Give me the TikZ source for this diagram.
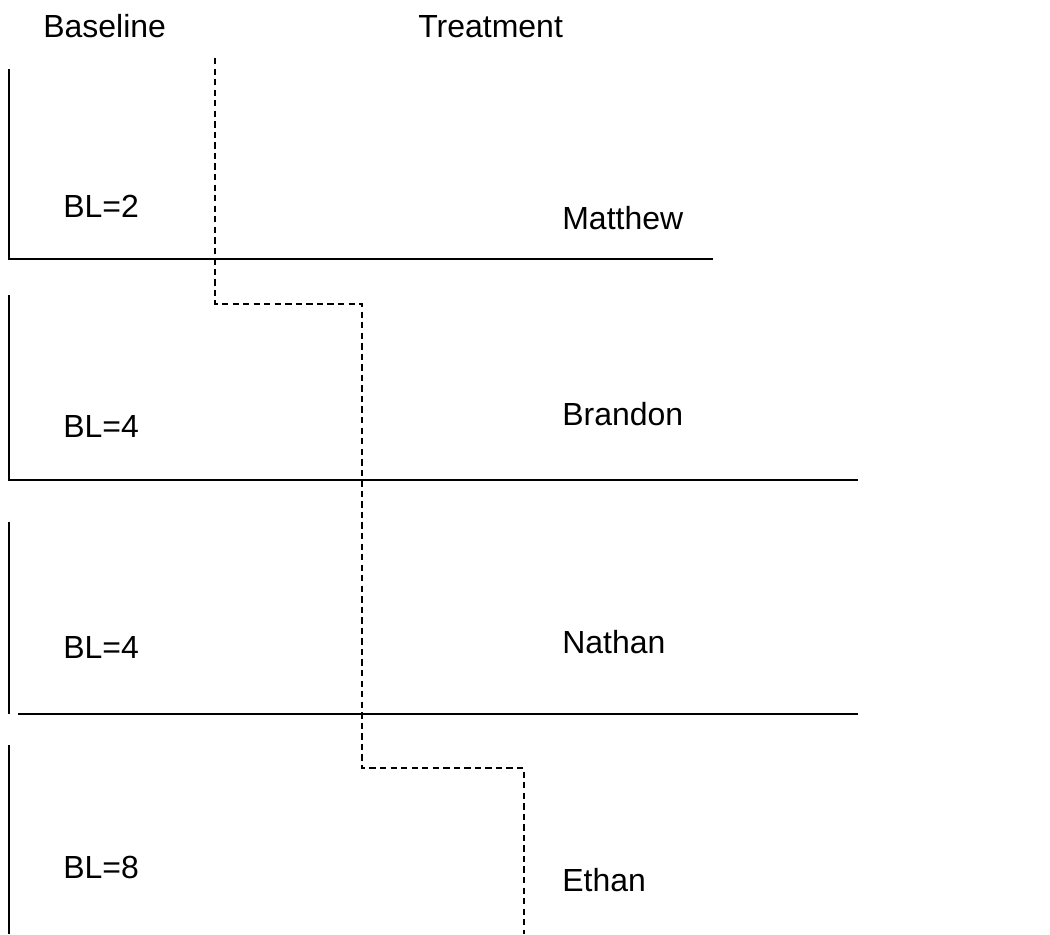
\documentclass[tikz,border=0pt]{standalone}
\usepackage{fontspec}
\setmainfont{Liberation Sans}
\usetikzlibrary{positioning}
\tikzstyle{axis} = [line width=1.1pt]
\tikzstyle{phase} = [line width=0.9pt,dash pattern=on 3.6pt off 2.4pt]
\tikzstyle{lbl} = [anchor=base west,inner sep=0pt,font=\fontsize{18.2}{22}\selectfont]

\begin{document}
\begin{tikzpicture}[x=0.02cm,y=-0.02cm]
\useasboundingbox (0,0) rectangle (1050,934);
\node [lbl](base) at (43,37){Baseline};
\node [lbl](treat) at (418,37){Treatment};

\node [lbl](bl1) at (63,217){BL=2};
\node [lbl](matthew) at (562,229){Matthew};
\node [lbl](bl2) at (63,437){BL=4};
\node [lbl](brandon) at (562,425){Brandon};
\node [lbl](bl3) at (63,658){BL=4};
\node [lbl](nathan) at (562,653){Nathan};
\node [lbl](bl4) at (63,878){BL=8};
\node [lbl](ethan) at (562,891){Ethan};

% axes of the four panels
\draw[axis](9,69)--(9,259)--(713,259);
\draw[axis](9,295)--(9,480)--(858,480);
\draw[axis](9,522)--(9,714);
\draw[axis](18,714)--(858,714);
\draw[axis](9,745)--(9,934);

% phase change line
\draw[phase](215,58)--(215,304)--(362,304)--(362,768)--(524,768)--(524,934);

\end{tikzpicture}
\end{document}
